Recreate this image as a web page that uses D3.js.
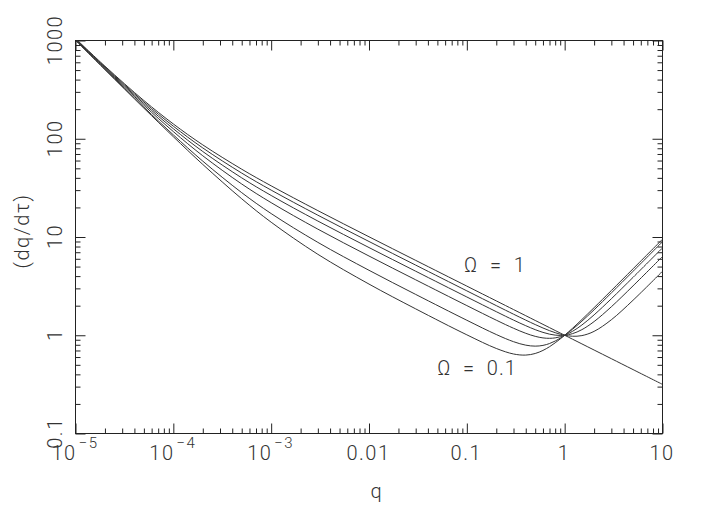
<!DOCTYPE html>
<html>
<head>
<meta charset="utf-8">
<script src="https://cdn.jsdelivr.net/npm/d3@7/dist/d3.min.js"></script>
<style>
  html, body { margin: 0; padding: 0; background: #fff; }
  svg { display: block; }
  text { font-family: Roboto, "Liberation Sans", Arial, sans-serif; font-weight: 300; fill: #333; }
</style>
</head>
<body>
<svg id="chart" width="705" height="510"></svg>
<script>
// ---- data ----
const qValues = [1e-5, 2e-5, 5e-5, 1e-4, 2e-4, 5e-4, 1e-3, 3e-3, 0.01, 0.03, 0.1, 0.2, 0.3, 0.4, 0.5, 0.6, 0.7, 0.8, 0.9, 1, 1.2, 1.5, 2, 3, 5, 10];
const omegas = [0.1, 0.2, 0.4, 0.6, 0.8, 1];
const rateOmega01 = [1005, 505, 204.9, 104.9, 54.77, 24.49, 14.14, 6.667, 3.317, 1.856, 1.010, 0.7338, 0.6445, 0.6282, 0.6522, 0.7007, 0.7642, 0.8374, 0.9166, 1.0, 1.1745, 1.4463, 1.9105, 2.8519, 4.7455, 9.487];
const rateOmega02 = [1010, 509.9, 209.8, 109.5, 59.16, 28.28, 17.32, 8.819, 4.583, 2.604, 1.421, 1.0171, 0.8601, 0.7929, 0.7749, 0.7884, 0.8234, 0.8730, 0.9329, 1.0, 1.1484, 1.3905, 1.8166, 2.6957, 4.4766, 8.945];
const rateOmega04 = [1019.8, 519.6, 219.1, 118.3, 67.08, 34.64, 22.36, 12.02, 6.403, 3.667, 2.004, 1.4236, 1.1783, 1.0472, 0.9749, 0.9397, 0.9304, 0.9403, 0.9647, 1.0, 1.0943, 1.2715, 1.6125, 2.3523, 3.8833, 7.749];
const rateOmega06 = [1029.6, 529.2, 228.0, 126.5, 74.16, 40.0, 26.46, 14.53, 7.810, 4.485, 2.452, 1.7374, 1.4273, 1.2508, 1.1403, 1.0697, 1.0263, 1.0031, 0.9954, 1.0, 1.0373, 1.1402, 1.3784, 1.9494, 3.1812, 6.329];
const rateOmega08 = [1039.2, 538.5, 236.6, 134.2, 80.62, 44.72, 30.0, 16.67, 9.0, 5.175, 2.831, 2.0026, 1.6388, 1.4257, 1.2847, 1.1856, 1.1140, 1.0622, 1.0252, 1.0, 0.9771, 0.9917, 1.0955, 1.4376, 2.2716, 4.481];
const rateOmega10 = [1048.8, 547.7, 244.9, 141.4, 86.60, 48.99, 33.17, 18.56, 10.05, 5.783, 3.164, 2.2366, 1.8260, 1.5813, 1.4144, 1.2911, 1.1953, 1.1181, 1.0542, 1.0, 0.9129, 0.8165, 0.7071, 0.5774, 0.4472, 0.3162];
const seriesValues = [rateOmega01, rateOmega02, rateOmega04, rateOmega06, rateOmega08, rateOmega10];

const xTickValues = [1e-5, 1e-4, 1e-3, 0.01, 0.1, 1, 10];
const xTickLabels = [["10", "\u22125"], ["10", "\u22124"], ["10", "\u22123"], ["0.01"], ["0.1"], ["1"], ["10"]];
const yTickValues = [0.1, 1, 10, 100, 1000];
const yTickLabels = ["0.1", "1", "10", "100", "1000"];
const xLabel = "q";
const yLabel = "(dq/d\u03C4)";
const annotations = [
  { text: "\u03A9  =  1", q: 0.196, v: 4.35 },
  { text: "\u03A9  =  0.1", q: 0.1285, v: 0.389 }
];

// ---- layout ----
const L = 75, R = 662, T = 40, B = 433;
const svg = d3.select("#chart");
const g = svg.append("g").attr("transform", "translate(0.5,0.5)");

const x = d3.scaleLog().domain([1e-5, 10]).range([L, R]);
const y = d3.scaleLog().domain([0.1, 1000]).range([B, T]);

function minorTicks(lo, hi) {
  const out = [];
  for (let e = Math.round(Math.log10(lo)); e < Math.round(Math.log10(hi)); e++) {
    for (let m = 2; m <= 9; m++) out.push(m * Math.pow(10, e));
  }
  return out;
}
const xMinor = minorTicks(1e-5, 10);
const yMinor = minorTicks(0.1, 1000);

const axisColor = "#222";
function styleAxis(sel) {
  sel.select(".domain").remove();
  sel.selectAll(".tick line").attr("stroke", axisColor).attr("stroke-width", 1);
  sel.selectAll(".tick text").remove();
}

// bottom
g.append("g").attr("transform", `translate(0,${B})`)
  .call(d3.axisBottom(x).tickValues(xTickValues).tickSize(-10)).call(styleAxis);
g.append("g").attr("transform", `translate(0,${B})`)
  .call(d3.axisBottom(x).tickValues(xMinor).tickSize(-5)).call(styleAxis);
// top
g.append("g").attr("transform", `translate(0,${T})`)
  .call(d3.axisTop(x).tickValues(xTickValues).tickSize(-10)).call(styleAxis);
g.append("g").attr("transform", `translate(0,${T})`)
  .call(d3.axisTop(x).tickValues(xMinor).tickSize(-5)).call(styleAxis);
// left
g.append("g").attr("transform", `translate(${L},0)`)
  .call(d3.axisLeft(y).tickValues(yTickValues).tickSize(-10)).call(styleAxis);
g.append("g").attr("transform", `translate(${L},0)`)
  .call(d3.axisLeft(y).tickValues(yMinor).tickSize(-5)).call(styleAxis);
// right
g.append("g").attr("transform", `translate(${R},0)`)
  .call(d3.axisRight(y).tickValues(yTickValues).tickSize(-10)).call(styleAxis);
g.append("g").attr("transform", `translate(${R},0)`)
  .call(d3.axisRight(y).tickValues(yMinor).tickSize(-5)).call(styleAxis);

// frame
g.append("rect").attr("x", L).attr("y", T).attr("width", R - L).attr("height", B - T)
  .attr("fill", "none").attr("stroke", axisColor).attr("stroke-width", 1);

// clip
svg.append("defs").append("clipPath").attr("id", "plotclip")
  .append("rect").attr("x", L).attr("y", T).attr("width", R - L).attr("height", B - T);

// curves
const line = d3.line()
  .x((d, i) => x(qValues[i]))
  .y(d => y(d))
  .curve(d3.curveCatmullRom.alpha(0.5));

g.append("g").attr("clip-path", "url(#plotclip)")
  .selectAll("path").data(seriesValues).join("path")
  .attr("d", d => line(d))
  .attr("fill", "none")
  .attr("stroke", "#333")
  .attr("stroke-width", 1);

// x tick labels
const xl = svg.append("g");
xTickValues.forEach((v, i) => {
  const lab = xTickLabels[i];
  const t = xl.append("text")
    .attr("x", x(v)).attr("y", 460)
    .attr("text-anchor", "middle")
    .attr("font-size", 20)
    .attr("letter-spacing", 1.5);
  t.append("tspan").text(lab[0]);
  if (lab.length > 1) {
    t.append("tspan").attr("font-size", 15).attr("dy", -12).attr("dx", 2).text(lab[1]);
  }
});

// y tick labels
yTickValues.forEach((v, i) => {
  svg.append("text")
    .attr("transform", `translate(62,${y(v)}) rotate(-90)`)
    .attr("text-anchor", "middle")
    .attr("font-size", 20)
    .attr("letter-spacing", 1.5)
    .text(yTickLabels[i]);
});

// axis titles
svg.append("text")
  .attr("x", 376).attr("y", 498)
  .attr("text-anchor", "middle")
  .attr("font-size", 20)
  .text(xLabel);
svg.append("text")
  .attr("transform", `translate(29,231) rotate(-90)`)
  .attr("text-anchor", "middle")
  .attr("font-size", 20)
  .attr("letter-spacing", 1.5)
  .text(yLabel);

// annotations
annotations.forEach(a => {
  svg.append("text")
    .attr("x", x(a.q)).attr("y", y(a.v))
    .attr("text-anchor", "middle")
    .attr("font-size", 20)
    .attr("letter-spacing", 1)
    .style("white-space", "pre")
    .text(a.text);
});
</script>
</body>
</html>
